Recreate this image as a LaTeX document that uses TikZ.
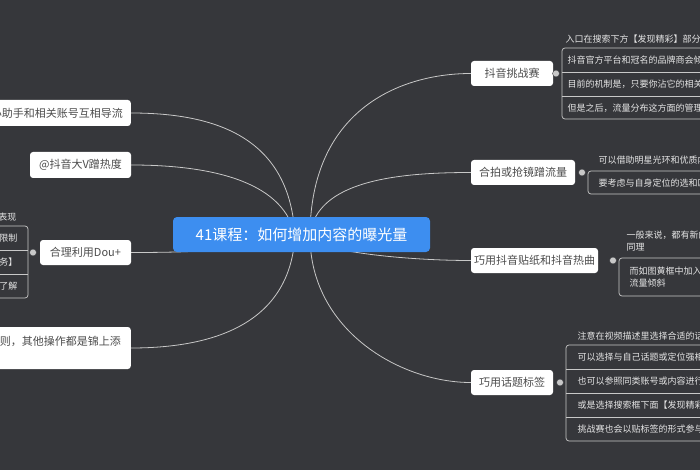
\documentclass[tikz,border=0pt]{standalone}
\usepackage{fontspec}
\setmainfont{Noto Sans CJK SC}
\definecolor{bgdark}{HTML}{36373B}
\definecolor{topicblue}{HTML}{3D8EF0}
\definecolor{linegray}{HTML}{C8C8C8}
\pgfdeclarelayer{bg}
\pgfdeclarelayer{links}
\pgfsetlayers{bg,links,main}
\tikzset{
  topic/.style={fill=white,rounded corners=3pt,text=black!70,font=\fontsize{11}{13}\selectfont,inner sep=0pt},
  toptext/.style={anchor=east,text=black!70,font=\fontsize{11}{13}\selectfont,inner sep=0pt},
  leaf/.style={text=white!90!black,font=\fontsize{9}{12}\selectfont,anchor=west},
  branch/.style={draw=linegray,line width=0.8pt},
  rim/.style={draw=linegray,line width=0.7pt,rounded corners=3pt},
  knob/.style={circle,fill=linegray,draw=bgdark,inner sep=0pt,minimum size=7pt}
}
\begin{document}
\begin{tikzpicture}[x=1pt,y=-1pt]
  \useasboundingbox (0,0) rectangle (700,470);
  \begin{pgfonlayer}{bg}
    \fill[bgdark] (0,0) rectangle (700,470);
  \end{pgfonlayer}
  \clip (0,0) rectangle (700,470);

  % centre
  \node[fill=topicblue,rounded corners=4pt,text=white,font=\fontsize{15}{18}\selectfont,
        minimum width=257pt,minimum height=35pt] (core) at (301.5,234.5) {41课程：如何增加内容的曝光量};
  \coordinate (hubR) at (310,236);
  \coordinate (hubL) at (295,236);

  % right topics
  \node[topic,minimum width=82pt,minimum height=25pt] (tz) at (512,73.5) {抖音挑战赛};
  \node[topic,minimum width=104pt,minimum height=25pt] (hp) at (523,172.5) {合拍或抢镜蹭流量};
  \node[topic,minimum width=127pt,minimum height=25pt] (tz2) at (534.5,260.5) {巧用抖音贴纸和抖音热曲};
  \node[topic,minimum width=82pt,minimum height=25pt] (ht) at (512,382.5) {巧用话题标签};

  % left topics
  \node[topic,minimum width=195pt,minimum height=26pt,anchor=east] (xz) at (131,113) {};
  \node[toptext] (xzt) at (123,113) {抖音小助手和相关账号互相导流};
  \node[topic,minimum width=101pt,minimum height=26pt] (dv) at (80.5,165) {@抖音大V蹭热度};
  \node[topic,minimum width=91pt,minimum height=25pt] (dou) at (85.5,252.5) {合理利用Dou+};
  \node[topic,minimum width=230pt,minimum height=42pt,anchor=east] (gz) at (131,348) {};
  \node[toptext] (gzt) at (121,341) {遵守平台规则，其他操作都是锦上添};

  % connectors
  \begin{pgfonlayer}{links}
    \draw[branch] (hubR) .. controls (310,110) and (400,73.5) .. (tz.west);
    \draw[branch] (hubR) .. controls (315,180) and (400,172.5) .. (hp.west);
    \draw[branch] (hubR) .. controls (310,250) and (400,260.5) .. (tz2.west);
    \draw[branch] (hubR) .. controls (310,330) and (400,382.5) .. (ht.west);
    \draw[branch] (hubL) .. controls (290,140) and (220,113) .. (xz.east);
    \draw[branch] (hubL) .. controls (285,185) and (220,165) .. (dv.east);
    \draw[branch] (hubL) .. controls (250,250) and (200,252.5) .. (dou.east);
    \draw[branch] (hubL) .. controls (290,320) and (220,348) .. (gz.east);
  \end{pgfonlayer}

  % 抖音挑战赛 leaves
  \node[knob] (k1) at (556,73.5) {};
  \node[leaf] (a0) at (562,39) {入口在搜索下方【发现精彩】部分可以看到};
  \draw[rim] (705,48) -- (562,48) -- (562,119) -- (705,119);
  \draw[linegray,line width=0.7pt] (562,72) -- (705,72) (562,96) -- (705,96);
  \node[leaf] (a1) at (564,60) {抖音官方平台和冠名的品牌商会倾力推广};
  \node[leaf] (a2) at (564,84) {目前的机制是，只要你沾它的相关话题};
  \node[leaf] (a3) at (564,108) {但是之后，流量分布这方面的管理会更严};

  % 合拍 leaves
  \node[knob] (k2) at (582,172.5) {};
  \node[leaf] (b0) at (595,160) {可以借助明星光环和优质内容};
  \draw[rim] (705,171) -- (588,171) -- (588,194) -- (705,194);
  \node[leaf] (b1) at (595,183) {要考虑与自身定位的选和匹配度};

  % 贴纸 leaves
  \node[knob] (k3) at (613,260.5) {};
  \node[leaf,align=left] (c0) at (623,241) {一般来说，都有新的玩法\\同理};
  \draw[rim] (705,258) -- (619,258) -- (619,296) -- (705,296);
  \node[leaf,align=left] (c1) at (626,277) {而如图黄框中加入的会有\\流量倾斜};

  % 话题 leaves
  \node[knob] (k4) at (560,382.5) {};
  \node[leaf] (d0) at (574,336) {注意在视频描述里选择合适的话题标签};
  \draw[rim] (705,345) -- (566,345) -- (566,441) -- (705,441);
  \draw[linegray,line width=0.7pt] (566,369) -- (705,369) (566,393) -- (705,393) (566,417) -- (705,417);
  \node[leaf] (d1) at (574,357) {可以选择与自己话题或定位强相关的};
  \node[leaf] (d2) at (574,381) {也可以参照同类账号或内容进行选择};
  \node[leaf] (d3) at (574,405) {或是选择搜索框下面【发现精彩】};
  \node[leaf] (d4) at (574,429) {挑战赛也会以贴标签的形式参与};

  % Dou+ leaves
  \node[knob] (k5) at (33,252.5) {};
  \node[leaf,anchor=east] (e0) at (20,217) {投放后看作品的数据表现};
  \draw[rim] (-5,226) -- (28,226) -- (28,298) -- (-5,298);
  \draw[linegray,line width=0.7pt] (-5,250) -- (28,250) (-5,274) -- (28,274);
  \node[leaf,anchor=east] (e1) at (21,238) {有投放金额限制};
  \node[leaf,anchor=east] (e2) at (21,262) {【Dou+上热门服务】};
  \node[leaf,anchor=east] (e3) at (21,286) {投放前多多了解};
\end{tikzpicture}
\end{document}
